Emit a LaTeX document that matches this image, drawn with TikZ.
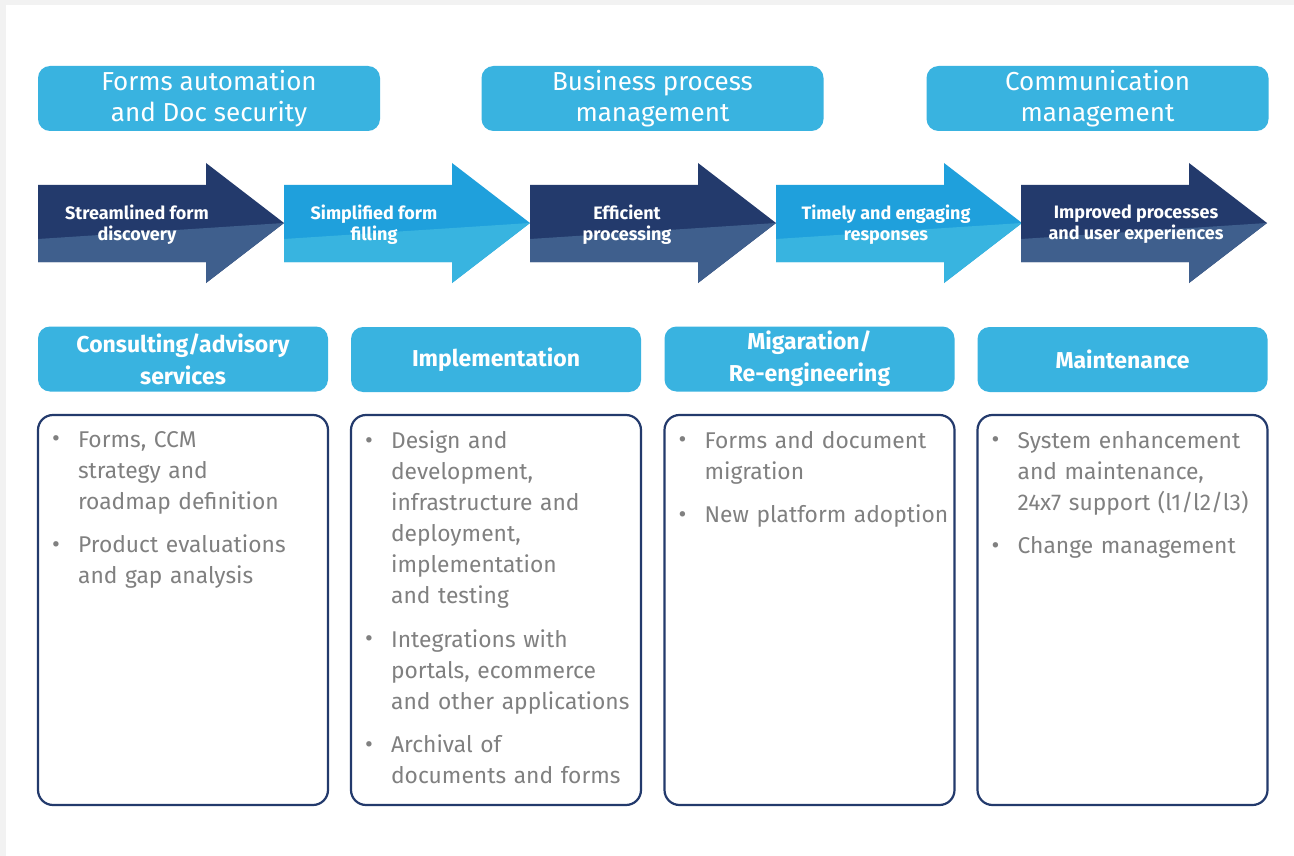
\documentclass[tikz,border=0pt]{standalone}
\usepackage{fontspec}
\setmainfont{Fira Sans}
\usetikzlibrary{positioning}

\definecolor{navy}{HTML}{233A6C}
\definecolor{navylight}{HTML}{3F5F8D}
\definecolor{sky}{HTML}{1FA0DC}
\definecolor{skylight}{HTML}{38B4E0}
\definecolor{boxblue}{HTML}{39B3E0}
\definecolor{txtgray}{HTML}{808080}
\definecolor{framegray}{HTML}{F2F2F2}

\tikzstyle{topbox} = [fill=boxblue, rounded corners=12pt, minimum width=342pt, minimum height=65pt,
	text=white, align=center, inner sep=0pt, font=\fontsize{26}{31}\selectfont]
\tikzstyle{headbox} = [fill=boxblue, rounded corners=12pt, minimum width=290pt, minimum height=65pt,
	text=white, align=center, inner sep=0pt, font=\bfseries\fontsize{23}{32}\selectfont]
\tikzstyle{listbox} = [draw=navy, line width=2.2pt, rounded corners=15pt, minimum width=290pt,
	minimum height=390pt, inner sep=0pt]
\tikzstyle{listtext} = [anchor=north west, text width=270pt, align=left, text=txtgray, inner sep=0pt,
	font=\fontsize{22.8}{31}\selectfont]
\tikzstyle{arrowtext} = [text=white, align=center, inner sep=0pt, font=\bfseries\fontsize{18}{21}\selectfont]

% one bullet point, lines broken by \newline
\newcommand{\bul}[1]{\hangindent=26pt\hangafter=1\noindent
	\makebox[26pt][l]{\raisebox{0.5pt}{\fontsize{24}{24}\selectfont\textbullet}}#1\par\vskip12.5pt}

\begin{document}
\begin{tikzpicture}[x=1pt,y=-1pt]
\useasboundingbox (0,0) rectangle (1294,856);
\fill[framegray] (0,0) rectangle (1294,856);
\fill[white] (6,5) rectangle (1294,856);

% solution areas
\node [topbox] (forms) at (209,98.5) {Forms automation\\and Doc security};
\node [topbox] (bpm) at (652.5,98.5) {Business process\\management};
\node [topbox] (comm) at (1097.5,98.5) {Communication\\management};

% flow arrows
\foreach \x/\up/\low in {38/navy/navylight, 284/sky/skylight, 530/navy/navylight,
	776/sky/skylight, 1021/navy/navylight}{
	\fill[\up] (\x,185) -- ++(168,0) -- ++(0,-22) -- (\x+246,223) -- (\x+168,283)
		-- ++(0,-21) -- (\x,262) -- cycle;
	\fill[\low] (\x,239) -- (\x+246,223) -- (\x+168,283) -- (\x+168,262) -- (\x,262) -- cycle;
}
\node [arrowtext] (discovery) at (137,224.5) {Streamlined form\\discovery};
\node [arrowtext] (filling) at (374,224.5) {Simplified form\\filling};
\node [arrowtext] (processing) at (627,224.5) {Efficient\\processing};
\node [arrowtext] (responses) at (886,224.5) {Timely and engaging\\responses};
\node [arrowtext] (improved) at (1136,224.5) {Improved processes\\and user experiences};

% services
\node [headbox] (consult) at (183,359) {Consulting/advisory\\services};
\node [headbox] (impl) at (496,359.5) {Implementation};
\node [headbox] (migr) at (809.5,359) {Migaration/\\Re-engineering};
\node [headbox] (maint) at (1122.5,359.5) {Maintenance};

\node [listbox] (consultlist) at (183,610) {};
\node [listbox] (impllist) at (496,610) {};
\node [listbox] (migrlist) at (809.5,610) {};
\node [listbox] (maintlist) at (1122.5,610) {};

\node [listtext] (consulttext) at ([shift={(15,17)}]consultlist.north west)
	{\bul{Forms, CCM\newline strategy and\newline roadmap definition}
	 \bul{Product evaluations\newline and gap analysis}};
\node [listtext] (impltext) at ([shift={(15,17)}]impllist.north west)
	{\bul{Design and\newline development,\newline infrastructure and\newline deployment,\newline
		implementation\newline and testing}
	 \bul{Integrations with\newline portals, ecommerce\newline and other applications}
	 \bul{Archival of\newline documents and forms}};
\node [listtext] (migrtext) at ([shift={(15,17)}]migrlist.north west)
	{\bul{Forms and document\newline migration}
	 \bul{New platform adoption}};
\node [listtext] (mainttext) at ([shift={(15,17)}]maintlist.north west)
	{\bul{System enhancement\newline and maintenance,\newline 24x7 support (l1/l2/l3)}
	 \bul{Change management}};
\end{tikzpicture}
\end{document}
